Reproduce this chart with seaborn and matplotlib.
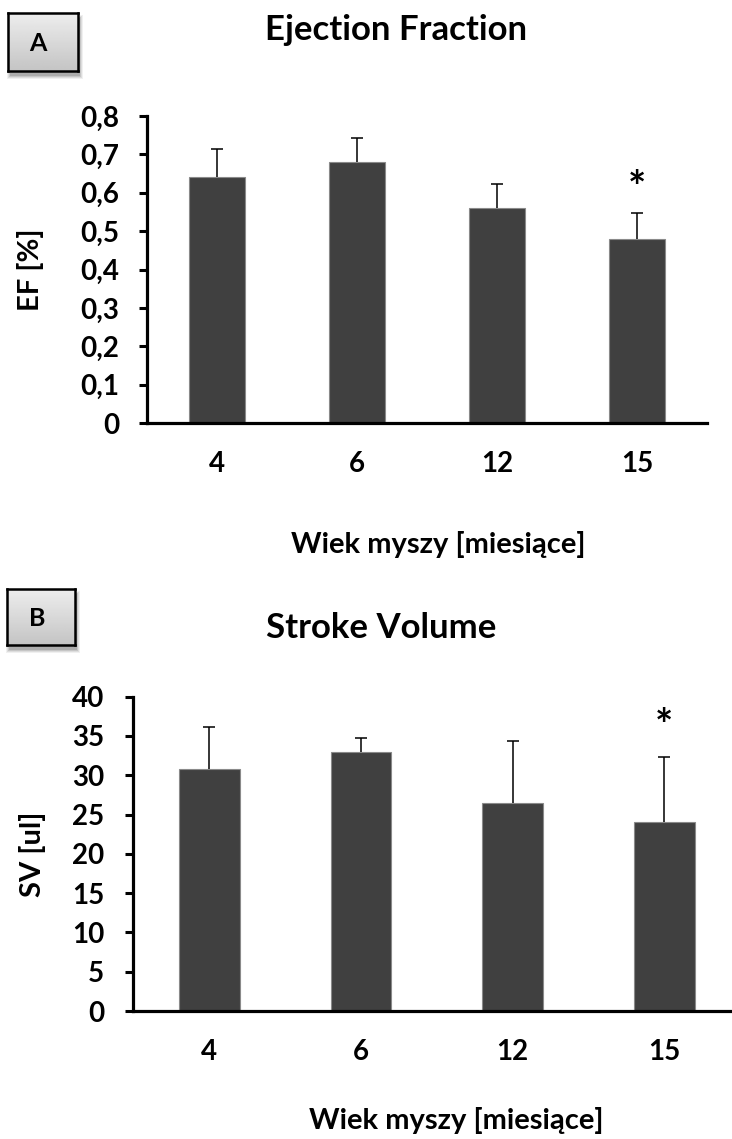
import numpy as np
import pandas as pd
import matplotlib
matplotlib.use("Agg")
import matplotlib.pyplot as plt
from matplotlib.patches import Rectangle
import seaborn as sns

# Age groups (months)
ages = ["4", "6", "12", "15"]

# Ejection fraction: means and upper SD
ef_mean = [0.64, 0.68, 0.56, 0.48]
ef_sd = [0.073, 0.063, 0.062, 0.067]

# Stroke volume [ul]: means and upper SD
sv_mean = [30.8, 32.9, 26.5, 24.1]
sv_sd = [5.3, 1.9, 7.9, 8.2]

# Significance markers per group
ef_sig = ["", "", "", "*"]
sv_sig = ["", "", "", "*"]

ef_ticks = [0, 0.1, 0.2, 0.3, 0.4, 0.5, 0.6, 0.7, 0.8]
ef_ticklabels = ["0", "0,1", "0,2", "0,3", "0,4", "0,5", "0,6", "0,7", "0,8"]
sv_ticks = [0, 5, 10, 15, 20, 25, 30, 35, 40]
sv_ticklabels = [str(t) for t in sv_ticks]

sns.set_theme(style="white")
plt.rcParams["font.family"] = ["Lato", "DejaVu Sans"]
plt.rcParams["font.weight"] = "bold"

W, H = 732, 1139
DPI = 100
fig = plt.figure(figsize=(W / DPI, H / DPI), dpi=DPI)
fig.patch.set_facecolor("white")

BAR = "#404040"
TICK_FS = 20
LABEL_FS = 21
TITLE_FS = 25


def px_axes(left, top, right, bottom):
    """Axes placed by pixel edges measured from the top-left corner."""
    return fig.add_axes([left / W, 1 - bottom / H, (right - left) / W, (bottom - top) / H])


def draw_panel(ax, means, sds, sig, ticks, ticklabels, ylim, xlim, ylabel, title,
               ylabel_x, xlabel_xy, title_xy, star_gap, ypad, xpad):
    df = pd.DataFrame({"age": ages, "value": means})
    sns.barplot(data=df, x="age", y="value", order=ages, color=BAR, width=0.4,
                saturation=1, errorbar=None, edgecolor="#8a8a8a", linewidth=0.8, ax=ax)
    xs = np.arange(len(ages))
    eb = ax.errorbar(xs, means, yerr=[np.zeros(len(sds)), sds], fmt="none",
                     ecolor="black", elinewidth=1.1, capsize=4.2, capthick=1.1, zorder=3)
    # upper whiskers only: hide the cap sitting on the bar top
    eb[1][0].set_visible(False)
    for x, m, s, t in zip(xs, means, sds, sig):
        if t:
            ax.text(x, m + s + star_gap, t, ha="center", va="center",
                    fontsize=31, fontweight="bold", color="black")

    ax.set_ylim(*ylim)
    ax.set_xlim(*xlim)
    ax.set_yticks(ticks)
    ax.set_yticklabels(ticklabels)
    ax.set_xticks(xs)
    ax.set_xticklabels(ages)
    for lab in ax.get_xticklabels() + ax.get_yticklabels():
        lab.set_fontsize(TICK_FS)
        lab.set_fontweight("bold")
        lab.set_color("black")

    sns.despine(ax=ax, top=True, right=True)
    for side in ("left", "bottom"):
        ax.spines[side].set_color("black")
        ax.spines[side].set_linewidth(2.3)
    ax.tick_params(axis="y", direction="out", length=6, width=2.2, color="black",
                   pad=ypad, left=True)
    ax.tick_params(axis="x", length=0, pad=xpad)
    ax.set_facecolor("white")

    ax.set_ylabel(ylabel, fontsize=LABEL_FS, fontweight="bold", color="black", va="center")
    ax.yaxis.set_label_coords(ylabel_x, 0.5)
    ax.set_xlabel("Wiek myszy [miesiące]", fontsize=LABEL_FS, fontweight="bold",
                  color="black", va="center")
    ax.xaxis.set_label_coords(*xlabel_xy)
    ax.set_title(title, fontsize=TITLE_FS, fontweight="bold", color="black",
                 x=title_xy[0], y=title_xy[1], va="baseline")


# Panel A: ejection fraction
axA = px_axes(147, 116, 707, 423)
draw_panel(axA, ef_mean, ef_sd, ef_sig, ef_ticks, ef_ticklabels,
           ylim=(0, 0.8), xlim=(-0.5, 3.5), ylabel="EF [%]", title="Ejection Fraction",
           ylabel_x=(30 - 147) / 560, xlabel_xy=((438 - 147) / 560, (423 - 544) / 307),
           title_xy=((396 - 147) / 560, 1 + 68 / 307), star_gap=0.063, ypad=14, xpad=20)

# Panel B: stroke volume (axis runs on to the right edge)
step_B = 151.7
axB = px_axes(133.4, 696.7, 732, 1011)
draw_panel(axB, sv_mean, sv_sd, sv_sig, sv_ticks, sv_ticklabels,
           ylim=(0, 40), xlim=(-0.5, -0.5 + (732 - 133.4) / step_B), ylabel="SV [ul]",
           title="Stroke Volume",
           ylabel_x=(32 - 133.4) / 598.6, xlabel_xy=((456 - 133.4) / 598.6, (1011 - 1121) / 314.3),
           title_xy=((381 - 133.4) / 598.6, 1 + 50.7 / 314.3), star_gap=3.8, ypad=15, xpad=20)


def panel_tag(letter, left, top, right, bottom, text_dx):
    # soft drop shadow
    for i, a in enumerate([0.06, 0.08, 0.10, 0.12]):
        grow = 3 - i
        fig.patches.append(Rectangle(((left + 2 - grow) / W, 1 - (bottom + 5 + grow) / H),
                                     (right - left + 2 * grow) / W, (bottom - top + 2 * grow) / H,
                                     transform=fig.transFigure, facecolor="black",
                                     edgecolor="none", alpha=a, zorder=1))
    tag = px_axes(left, top, right, bottom)
    grad = np.linspace(0.93, 0.77, 64).reshape(-1, 1)
    tag.imshow(grad, cmap="gray", vmin=0, vmax=1, aspect="auto", extent=(0, 1, 0, 1))
    tag.set_xlim(0, 1)
    tag.set_ylim(0, 1)
    tag.set_xticks([])
    tag.set_yticks([])
    for s in tag.spines.values():
        s.set_visible(True)
        s.set_color("black")
        s.set_linewidth(1.8)
    tag.text(0.5 + text_dx, 0.47, letter, ha="center", va="center", fontsize=18,
             fontweight="bold", color="black", transform=tag.transAxes)
    tag.set_zorder(5)


panel_tag("A", 8, 13, 78, 71, -0.07)
panel_tag("B", 7, 589, 75, 645, -0.06)

fig.savefig("out.png", dpi=DPI, facecolor="white")
